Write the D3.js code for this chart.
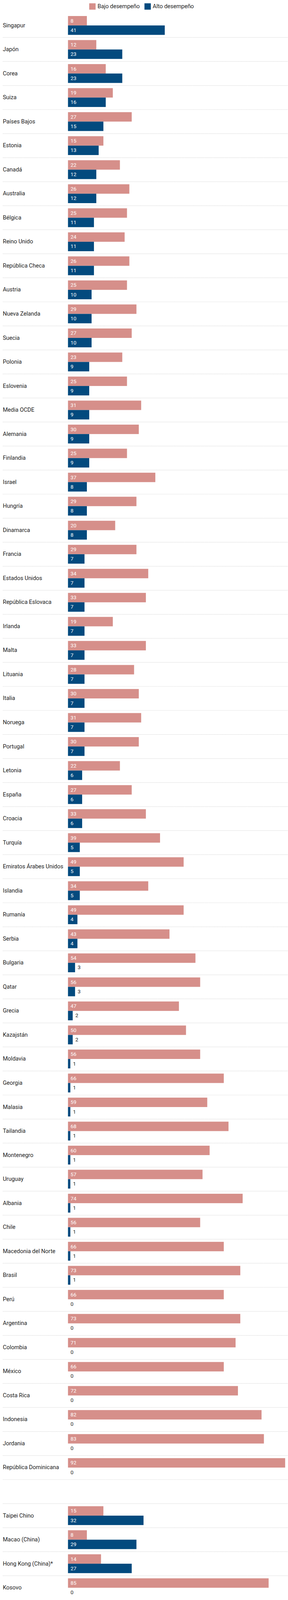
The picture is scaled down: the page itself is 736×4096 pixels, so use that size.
<!DOCTYPE html>
<html>
<head>
<meta charset="utf-8">
<script src="https://cdn.jsdelivr.net/npm/d3@7"></script>
<style>
  body { margin: 0; background: #fff; }
  svg { display: block; font-family: Roboto, "Liberation Sans", sans-serif; }
</style>
</head>
<body>
<div id="chart"></div>
<script>
const countries = ["Singapur", "Japón", "Corea", "Suiza", "Países Bajos", "Estonia", "Canadá", "Australia",
    "Bélgica", "Reino Unido", "República Checa", "Austria", "Nueva Zelanda", "Suecia", "Polonia", "Eslovenia",
    "Media OCDE", "Alemania", "Finlandia", "Israel", "Hungría", "Dinamarca", "Francia", "Estados Unidos",
    "República Eslovaca", "Irlanda", "Malta", "Lituania", "Italia", "Noruega", "Portugal", "Letonia", "España",
    "Croacia", "Turquía", "Emiratos Árabes Unidos", "Islandia", "Rumanía", "Serbia", "Bulgaria", "Qatar",
    "Grecia", "Kazajstán", "Moldavia", "Georgia", "Malasia", "Tailandia", "Montenegro", "Uruguay", "Albania",
    "Chile", "Macedonia del Norte", "Brasil", "Perú", "Argentina", "Colombia", "México", "Costa Rica",
    "Indonesia", "Jordania", "República Dominicana",
    "Taipei Chino", "Macao (China)", "Hong Kong (China)*", "Kosovo"];
const bajo = [8, 12, 16, 19, 27, 15, 22, 26, 25, 24, 26, 25, 29, 27, 23, 25, 31, 30, 25, 37, 29, 20, 29, 34,
    33, 19, 33, 28, 30, 31, 30, 22, 27, 33, 39, 49, 34, 49, 43, 54, 56, 47, 50, 56, 66, 59, 68, 60, 57, 74,
    56, 66, 73, 66, 73, 71, 66, 72, 82, 83, 92,
    15, 8, 14, 85];
const alto = [41, 23, 23, 16, 15, 13, 12, 12, 11, 11, 11, 10, 10, 10, 9, 9, 9, 9, 9, 8, 8, 8, 7, 7,
    7, 7, 7, 7, 7, 7, 7, 6, 6, 6, 5, 5, 5, 4, 4, 3, 3, 2, 2, 1, 1, 1, 1, 1, 1, 1,
    1, 1, 1, 0, 0, 0, 0, 0, 0, 0, 0,
    32, 29, 27, 0];
const series = ["Bajo desempeño", "Alto desempeño"];
const colors = ["#d68f8a", "#034a7e"];
const gapAfter = 60; // blank row after República Dominicana

const W = 1220, H = 6790;
const svg = d3.select("#chart")
    .append("svg")
    .attr("width", 736)
    .attr("height", 4096)
    .attr("viewBox", `0 0 ${W} ${H}`)
    .attr("preserveAspectRatio", "xMinYMin meet");

const rows = countries.map((c, i) => ({
    name: c,
    slot: i > gapAfter ? i + 1 : i,
    values: [bajo[i], alto[i]]
}));
const nSlots = countries.length + 1;

const x = d3.scaleLinear().domain([0, 92]).range([288, 1208]);
const y = d3.scaleBand().domain(d3.range(nSlots)).range([57, 57 + nSlots * 102]);
const ySub = d3.scaleBand().domain([0, 1]).range([11, 91]);

// legend
const legend = svg.append("g");
const legX = [378, 612];
series.forEach((s, k) => {
    legend.append("rect")
        .attr("x", legX[k]).attr("y", 14)
        .attr("width", 27).attr("height", 27)
        .attr("fill", colors[k]);
    legend.append("text")
        .attr("x", legX[k] + 35).attr("y", 28)
        .attr("dominant-baseline", "central")
        .attr("font-size", 24)
        .attr("fill", "#222")
        .text(s);
});

// dotted separators (under every slot except the last)
svg.append("g")
    .selectAll("line")
    .data(d3.range(nSlots - 1))
    .join("line")
    .attr("x1", 12).attr("x2", W)
    .attr("y1", d => y(d) + y.bandwidth())
    .attr("y2", d => y(d) + y.bandwidth())
    .attr("stroke", "#cfcfcf")
    .attr("stroke-width", 2)
    .attr("stroke-dasharray", "2,2");

const row = svg.append("g")
    .selectAll("g")
    .data(rows)
    .join("g")
    .attr("transform", d => `translate(0, ${y(d.slot)})`);

row.append("text")
    .attr("x", 12)
    .attr("y", y.bandwidth() / 2)
    .attr("dominant-baseline", "central")
    .attr("font-size", 24)
    .attr("fill", "#222")
    .text(d => d.name);

const bars = row.selectAll("g.bar")
    .data(d => d.values.map((v, k) => ({ v: v, k: k })))
    .join("g")
    .attr("class", "bar");

bars.append("rect")
    .attr("x", x(0))
    .attr("y", d => ySub(d.k))
    .attr("width", d => x(d.v) - x(0))
    .attr("height", ySub.bandwidth())
    .attr("fill", d => colors[d.k]);

bars.append("text")
    .attr("x", d => (x(d.v) - x(0) < 35) ? x(d.v) + 11 : x(0) + 11)
    .attr("y", d => ySub(d.k) + ySub.bandwidth() / 2)
    .attr("dominant-baseline", "central")
    .attr("font-size", 22)
    .attr("fill", d => (x(d.v) - x(0) < 35) ? "#222" : "#fff")
    .text(d => d.v);
</script>
</body>
</html>
